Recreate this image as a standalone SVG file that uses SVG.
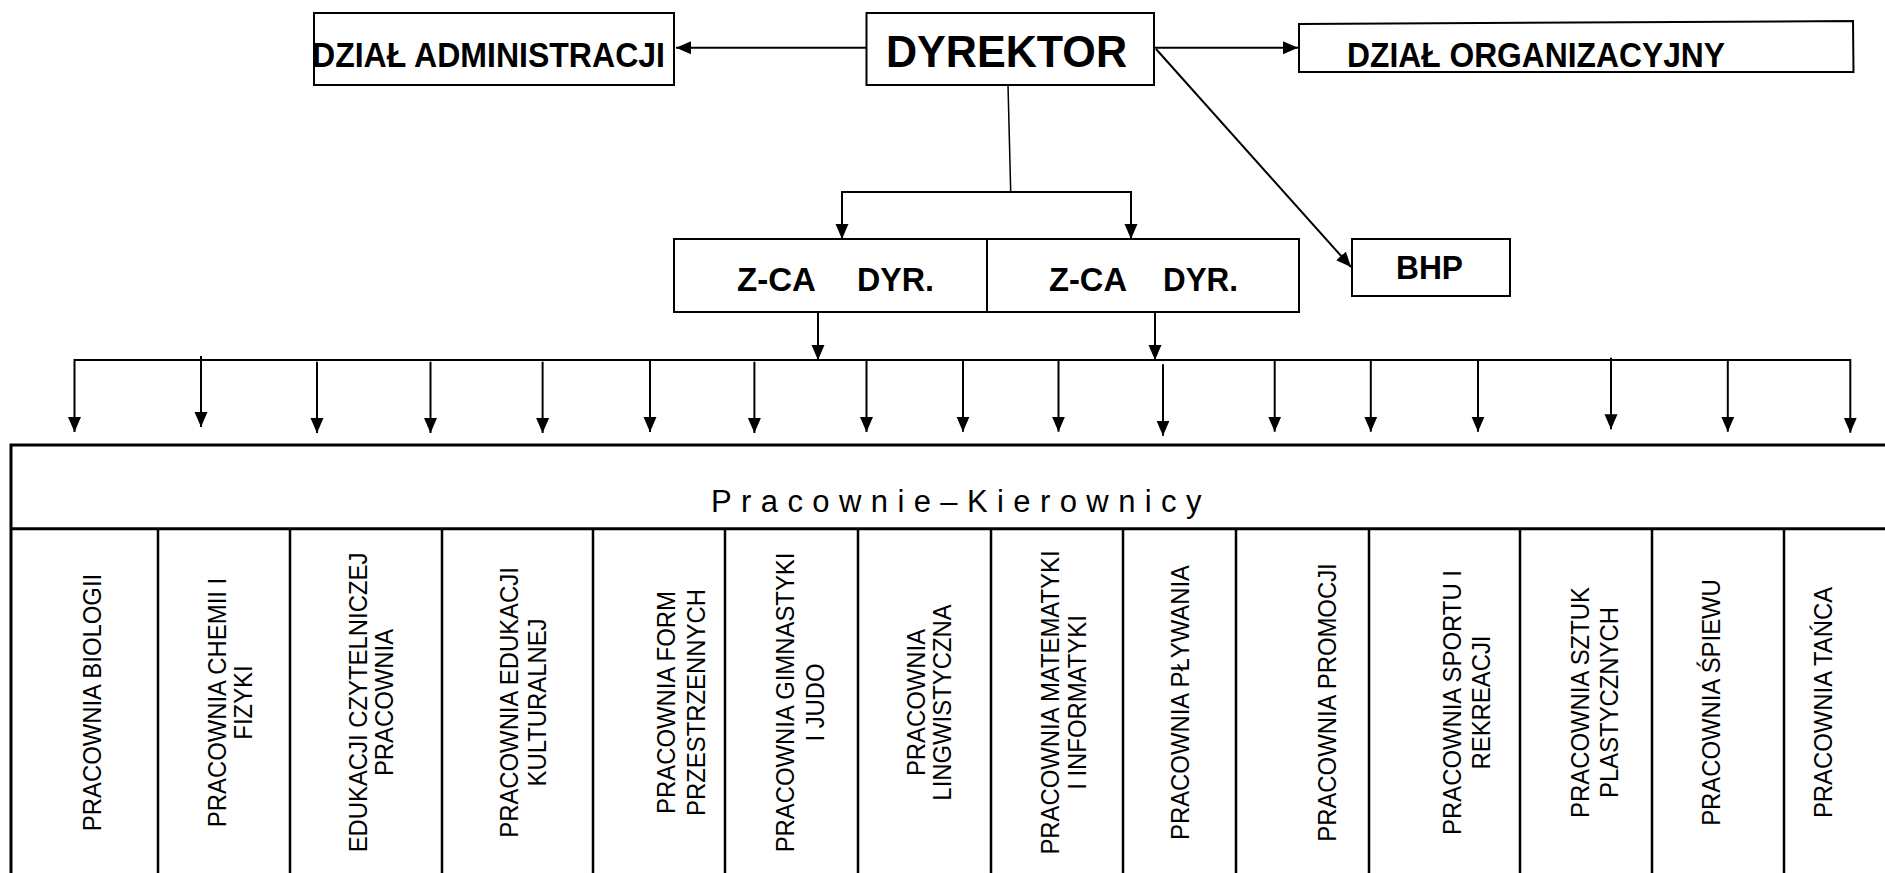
<svg xmlns="http://www.w3.org/2000/svg" width="1885" height="873" viewBox="0 0 1885 873">
<style>
.box{fill:#fff;stroke:#000;stroke-width:2}
.tbl{fill:none;stroke:#000;stroke-width:3}
.col{fill:none;stroke:#000;stroke-width:2.5}
.con{fill:none;stroke:#000;stroke-width:2}
.thin{fill:none;stroke:#000;stroke-width:1.5}
.bt{font-family:"Liberation Sans",Arial,sans-serif;font-weight:bold;fill:#000}
.vt{font-family:"Liberation Sans",Arial,sans-serif;font-size:25px;fill:#000;text-anchor:middle}
.hd{font-family:"Liberation Sans",Arial,sans-serif;font-size:31px;fill:#000;letter-spacing:9.4px}
</style>
<defs>
<marker id="ah" markerUnits="userSpaceOnUse" markerWidth="15" markerHeight="14" refX="15" refY="7" orient="auto">
<path d="M0,0.5 L15,7 L0,13.5 z" fill="#000"/>
</marker>
</defs>
<rect width="1885" height="873" fill="#fff"/>

<g id="connectors">
<line class="con" x1="866" y1="47.7" x2="676" y2="47.7" marker-end="url(#ah)"/>
<line class="con" x1="1154" y1="47.7" x2="1298" y2="47.7" marker-end="url(#ah)"/>
<line class="con" x1="1156" y1="49" x2="1351" y2="267" marker-end="url(#ah)"/>
<line class="thin" x1="1008" y1="85" x2="1010.7" y2="192"/>
<line class="con" x1="842" y1="192" x2="1131" y2="192"/>
<line class="con" x1="842" y1="191" x2="842" y2="239" marker-end="url(#ah)"/>
<line class="con" x1="1131" y1="191" x2="1131" y2="239" marker-end="url(#ah)"/>
<line class="con" x1="818" y1="312" x2="818" y2="360" marker-end="url(#ah)"/>
<line class="con" x1="1155" y1="312" x2="1155" y2="360" marker-end="url(#ah)"/>
<line class="con" x1="74" y1="360" x2="1851" y2="360"/>
<line class="con" x1="74.5" y1="359" x2="74.5" y2="432" marker-end="url(#ah)"/>
<line class="con" x1="201" y1="356" x2="201" y2="427" marker-end="url(#ah)"/>
<line class="con" x1="317" y1="361.7" x2="317" y2="433" marker-end="url(#ah)"/>
<line class="con" x1="430.5" y1="361.7" x2="430.5" y2="433" marker-end="url(#ah)"/>
<line class="con" x1="542.6" y1="361.7" x2="542.6" y2="433" marker-end="url(#ah)"/>
<line class="con" x1="650" y1="360" x2="650" y2="432" marker-end="url(#ah)"/>
<line class="con" x1="754.4" y1="361.7" x2="754.4" y2="433" marker-end="url(#ah)"/>
<line class="con" x1="866.5" y1="360" x2="866.5" y2="432" marker-end="url(#ah)"/>
<line class="con" x1="963" y1="360" x2="963" y2="431.7" marker-end="url(#ah)"/>
<line class="con" x1="1058.5" y1="360" x2="1058.5" y2="431.7" marker-end="url(#ah)"/>
<line class="con" x1="1163" y1="364.3" x2="1163" y2="435.7" marker-end="url(#ah)"/>
<line class="con" x1="1274.7" y1="360" x2="1274.7" y2="431.7" marker-end="url(#ah)"/>
<line class="con" x1="1370.8" y1="360" x2="1370.8" y2="431.7" marker-end="url(#ah)"/>
<line class="con" x1="1478" y1="360" x2="1478" y2="431.7" marker-end="url(#ah)"/>
<line class="con" x1="1611" y1="357.7" x2="1611" y2="429.3" marker-end="url(#ah)"/>
<line class="con" x1="1727.8" y1="360" x2="1727.8" y2="431.7" marker-end="url(#ah)"/>
<line class="con" x1="1850.3" y1="359" x2="1850.3" y2="432.7" marker-end="url(#ah)"/>
</g>

<g id="dzial-administracji">
<rect class="box" x="314" y="13" width="360" height="72"/>
<text class="bt" x="312" y="66.7" font-size="35" textLength="353" lengthAdjust="spacingAndGlyphs">DZIAŁ ADMINISTRACJI</text>
</g>

<g id="dyrektor">
<rect class="box" x="866.5" y="13" width="287.5" height="72"/>
<text class="bt" x="886" y="66.7" font-size="44" textLength="241" lengthAdjust="spacingAndGlyphs">DYREKTOR</text>
</g>

<g id="dzial-organizacyjny">
<polygon class="box" points="1299,24 1853,21 1853.5,72 1299,72"/>
<text class="bt" x="1347" y="67" font-size="35" textLength="378" lengthAdjust="spacingAndGlyphs">DZIAŁ ORGANIZACYJNY</text>
</g>

<g id="zca-1">
<rect class="box" x="674" y="239" width="313" height="73"/>
<text class="bt" x="737" y="291" font-size="34" textLength="79" lengthAdjust="spacingAndGlyphs">Z-CA</text>
<text class="bt" x="857" y="291" font-size="34" textLength="77" lengthAdjust="spacingAndGlyphs">DYR.</text>
</g>

<g id="zca-2">
<rect class="box" x="987" y="239" width="312" height="73"/>
<text class="bt" x="1049" y="291" font-size="34" textLength="78" lengthAdjust="spacingAndGlyphs">Z-CA</text>
<text class="bt" x="1163" y="291" font-size="34" textLength="75" lengthAdjust="spacingAndGlyphs">DYR.</text>
</g>

<g id="bhp">
<rect class="box" x="1352" y="239" width="158" height="57"/>
<text class="bt" x="1396" y="279" font-size="34" textLength="67" lengthAdjust="spacingAndGlyphs">BHP</text>
</g>

<g id="pracownie-kierownicy">
<path class="tbl" d="M1890,445 H11 V880 M11,528.7 H1890"/>
<text class="hd" x="711" y="512">Pracownie–Kierownicy</text>
</g>

<g id="pracownie-kolumny">
<path class="col" d="M158,529 V880 M290,529 V880 M442,529 V880 M593,529 V880 M725,529 V880 M858,529 V880 M991,529 V880 M1123,529 V880 M1236,529 V880 M1369,529 V880 M1520,529 V880 M1652,529 V880 M1784,529 V880"/>
</g>

<g id="pracownia-biologii"><text class="vt" transform="translate(101,702.5) rotate(-90) scale(0.955,1)">PRACOWNIA BIOLOGII</text></g>
<g id="pracownia-chemii"><text class="vt" transform="translate(225.5,702.5) rotate(-90) scale(0.955,1)"><tspan x="0">PRACOWNIA CHEMII I</tspan><tspan x="0" dy="27">FIZYKI</tspan></text></g>
<g id="edukacji-czytelniczej"><text class="vt" transform="translate(366.5,702.5) rotate(-90) scale(0.955,1)"><tspan x="0">EDUKACJI CZYTELNICZEJ</tspan><tspan x="0" dy="27">PRACOWNIA</tspan></text></g>
<g id="pracownia-edukacji"><text class="vt" transform="translate(518,702.5) rotate(-90) scale(0.955,1)"><tspan x="0">PRACOWNIA EDUKACJI</tspan><tspan x="0" dy="28.5">KULTURALNEJ</tspan></text></g>
<g id="pracownia-form"><text class="vt" transform="translate(675,702.5) rotate(-90) scale(0.955,1)"><tspan x="0">PRACOWNIA FORM</tspan><tspan x="0" dy="30">PRZESTRZENNYCH</tspan></text></g>
<g id="pracownia-gimnastyki"><text class="vt" transform="translate(794,702.5) rotate(-90) scale(0.955,1)"><tspan x="0">PRACOWNIA GIMNASTYKI</tspan><tspan x="0" dy="30">I JUDO</tspan></text></g>
<g id="pracownia-lingwistyczna"><text class="vt" transform="translate(924.5,702.5) rotate(-90) scale(0.955,1)"><tspan x="0">PRACOWNIA</tspan><tspan x="0" dy="26.5">LINGWISTYCZNA</tspan></text></g>
<g id="pracownia-matematyki"><text class="vt" transform="translate(1058.5,702.5) rotate(-90) scale(0.955,1)"><tspan x="0">PRACOWNIA MATEMATYKI</tspan><tspan x="0" dy="28">I INFORMATYKI</tspan></text></g>
<g id="pracownia-plywania"><text class="vt" transform="translate(1188.5,702.5) rotate(-90) scale(0.955,1)">PRACOWNIA PŁYWANIA</text></g>
<g id="pracownia-promocji"><text class="vt" transform="translate(1336,702.5) rotate(-90) scale(0.955,1)">PRACOWNIA PROMOCJI</text></g>
<g id="pracownia-sportu"><text class="vt" transform="translate(1461,702.5) rotate(-90) scale(0.955,1)"><tspan x="0">PRACOWNIA SPORTU I</tspan><tspan x="0" dy="29.3">REKREACJI</tspan></text></g>
<g id="pracownia-sztuk"><text class="vt" transform="translate(1588.5,702.5) rotate(-90) scale(0.955,1)"><tspan x="0">PRACOWNIA SZTUK</tspan><tspan x="0" dy="29.5">PLASTYCZNYCH</tspan></text></g>
<g id="pracownia-spiewu"><text class="vt" transform="translate(1720,702.5) rotate(-90) scale(0.955,1)">PRACOWNIA ŚPIEWU</text></g>
<g id="pracownia-tanca"><text class="vt" transform="translate(1832,702.5) rotate(-90) scale(0.955,1)">PRACOWNIA TAŃCA</text></g>
</svg>
